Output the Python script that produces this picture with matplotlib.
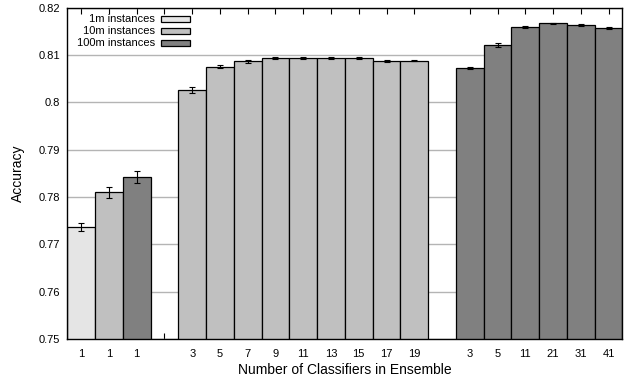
import numpy as np
import matplotlib
matplotlib.use('Agg')
import matplotlib.pyplot as plt
from matplotlib.patches import Rectangle

plt.rcParams['font.family'] = ['Liberation Sans', 'DejaVu Sans']

# data
labels_1m = ['1']
acc_1m = [0.7736]
err_1m = [0.0008]

labels_10m = ['1', '3', '5', '7', '9', '11', '13', '15', '17', '19']
acc_10m = [0.7810, 0.8026, 0.8075, 0.8086, 0.8094, 0.8093, 0.8093, 0.8093, 0.8087, 0.8088]
err_10m = [0.0012, 0.0006, 0.0003, 0.0003, 0.0002, 0.0002, 0.0002, 0.0002, 0.0003, 0.0002]

labels_100m = ['1', '3', '5', '11', '21', '31', '41']
acc_100m = [0.7842, 0.8073, 0.8121, 0.8159, 0.8167, 0.8164, 0.8157]
err_100m = [0.0013, 0.0002, 0.0005, 0.0002, 0.0001, 0.0002, 0.0002]

series_names = ['1m instances', '10m instances', '100m instances']
colors = ['#e5e5e5', '#c0c0c0', '#808080']

# slot layout: [1m,10m,100m at 1 classifier] gap [10m ensembles] gap [100m ensembles]
pos_1m = [0]
pos_10m = [1] + list(range(4, 4 + len(acc_10m) - 1))
pos_100m = [2] + list(range(14, 14 + len(acc_100m) - 1))

fig = plt.figure(figsize=(6.27, 3.81), dpi=100)
ax = fig.add_axes([0.1073, 0.1102, 0.9928 - 0.1073, 0.9803 - 0.1102])

ax.set_axisbelow(True)
ax.yaxis.grid(True, color='#b4b4b4', linewidth=1.0)

ekw = dict(ecolor='black', elinewidth=0.8, capsize=2.5, capthick=0.8)
for pos, acc, err, col in [(pos_1m, acc_1m, err_1m, colors[0]),
                           (pos_10m, acc_10m, err_10m, colors[1]),
                           (pos_100m, acc_100m, err_100m, colors[2])]:
    ax.bar(pos, acc, width=1.0, color=col, edgecolor='black', linewidth=0.9,
           yerr=err, error_kw=ekw, zorder=2)

# tick labels
tick_pos = pos_1m + [pos_10m[0], pos_100m[0], 3] + pos_10m[1:] + pos_100m[1:]
tick_lab = labels_1m + [labels_10m[0], labels_100m[0], ''] + labels_10m[1:] + labels_100m[1:]
ax.set_xticks(tick_pos)
ax.set_xticklabels(tick_lab)
ax.set_xlim(-0.5, 19.5)
ax.set_ylim(0.75, 0.82)
yt = np.arange(0.75, 0.8201, 0.01)
ax.set_yticks(yt)
ax.set_yticklabels(['%g' % round(v, 2) for v in yt])

ax.tick_params(axis='x', direction='in', top=True, length=4, width=0.8, labelsize=8, pad=7)
ax.tick_params(axis='y', direction='in', length=0, labelsize=8, pad=5)
for s in ax.spines.values():
    s.set_linewidth(1.0)

ax.set_xlabel('Number of Classifiers in Ensemble', fontsize=10, labelpad=3)
ax.set_ylabel('Accuracy', fontsize=10, labelpad=10)

# gnuplot-style key: right-justified text, swatch to the right
for i, (name, col) in enumerate(zip(series_names, colors)):
    y = 0.965 - i * 0.0365
    ax.text(0.158, y, name, transform=ax.transAxes, ha='right', va='center', fontsize=8)
    ax.add_patch(Rectangle((0.169, y - 0.009), 0.052, 0.019, transform=ax.transAxes,
                           facecolor=col, edgecolor='black', linewidth=0.9, zorder=3))

fig.savefig('out.png', dpi=100)
